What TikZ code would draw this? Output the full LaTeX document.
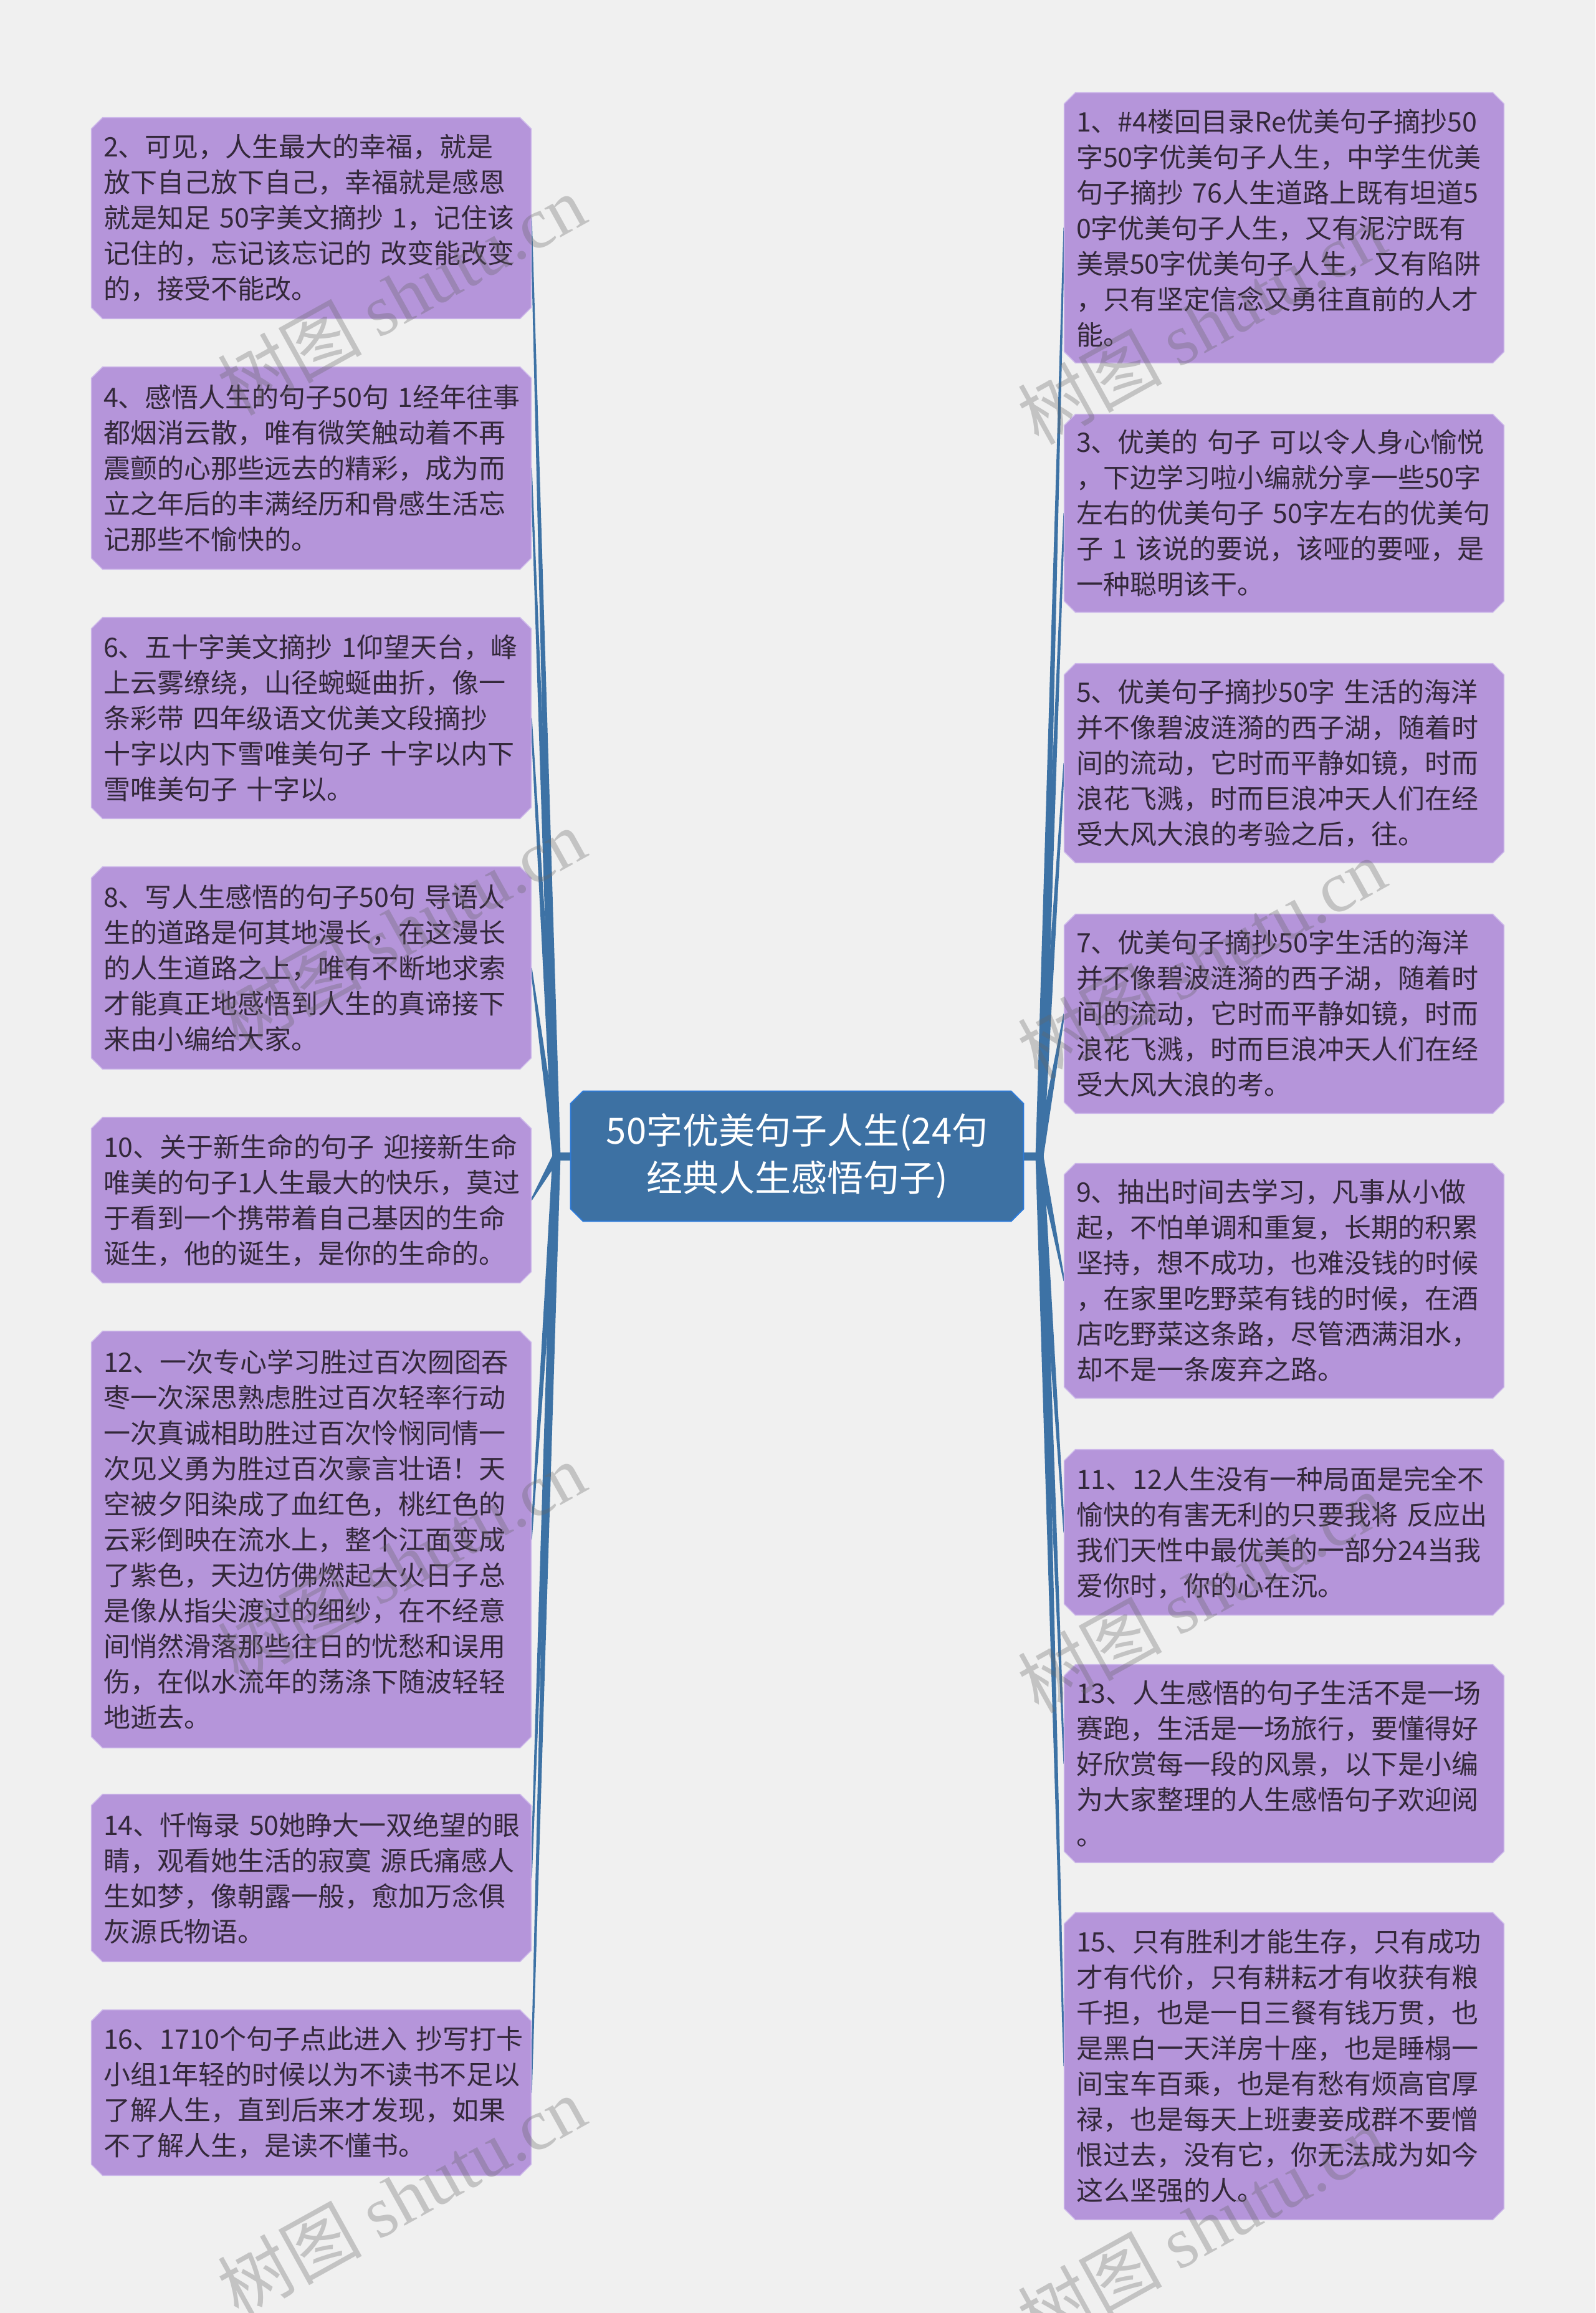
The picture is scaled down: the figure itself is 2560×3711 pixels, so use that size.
\documentclass[tikz,border=0pt]{standalone}
\usepackage{fontspec}
\setmainfont{Noto Sans CJK SC}
\newfontfamily\wmserif{Liberation Serif}
\usetikzlibrary{calc,backgrounds}
\definecolor{bgc}{HTML}{F0F0F0}
\definecolor{leaffill}{HTML}{B595DA}
\definecolor{leafedge}{HTML}{CDB8EA}
\definecolor{leaftext}{HTML}{33283A}
\definecolor{rootfill}{HTML}{3D71A3}
\definecolor{rootedge}{HTML}{2D7AD8}
\definecolor{linkc}{HTML}{3D72A5}
\newcommand\chamf[3]{\path[#2] ([xshift=#3]#1.north west) -- ([xshift=-#3]#1.north east) -- ([yshift=-#3]#1.north east) -- ([yshift=#3]#1.south east) -- ([xshift=-#3]#1.south east) -- ([xshift=#3]#1.south west) -- ([yshift=#3]#1.south west) -- ([yshift=-#3]#1.north west) -- cycle;}
\newcommand\branchL[1]{\fill[linkc] ($(hubL)!3.2pt!90:(#1.east)$) -- ($(#1.east)!0.6pt!-90:(hubL)$) -- ($(#1.east)!0.6pt!90:(hubL)$) -- ($(hubL)!3.2pt!-90:(#1.east)$) -- cycle;}
\newcommand\branchR[1]{\fill[linkc] ($(hubR)!3.2pt!90:(#1.west)$) -- ($(#1.west)!0.6pt!-90:(hubR)$) -- ($(#1.west)!0.6pt!90:(hubR)$) -- ($(hubR)!3.2pt!-90:(#1.west)$) -- cycle;}
\begin{document}
\begin{tikzpicture}[x=0.5pt,y=-0.5pt,
  leaf/.style={rectangle, inner xsep=9.5pt, inner ysep=0pt, text width=333.5pt, align=left,
    minimum height=#1*0.5pt, font=\fontsize{21.5pt}{28.5pt}\selectfont, text=leaftext},
  leafbox/.style={fill=leaffill, draw=leafedge, line width=0.75pt},
  rootbox/.style={fill=rootfill, draw=rootedge, line width=1pt},
  root/.style={rectangle, minimum width=363pt, minimum height=104pt, align=center,
    font=\fontsize{29pt}{38pt}\selectfont, text=white},
  stub/.style={draw=linkc, line width=6.5pt},
  wm/.style={rotate=29, text=black!60, text opacity=0.32, font=\fontsize{58pt}{58pt}\selectfont}]
\useasboundingbox (0,0) rectangle (2560,3711);

\node[root] (C) at (1279,1855) {50字优美句子人生(24句\\经典人生感悟句子)};
\coordinate (hubL) at (893,1855);
\coordinate (hubR) at (1668,1855);

\node[leaf=322] (L2) at (499.5,350) {2、可见，人生最大的幸福，就是\\放下自己放下自己，幸福就是感恩\\就是知足~50字美文摘抄~1，记住该\\记住的，忘记该忘记的~改变能改变\\的，接受不能改。};
\node[leaf=324] (L4) at (499.5,751) {4、感悟人生的句子50句~1经年往事\\都烟消云散，唯有微笑触动着不再\\震颤的心那些远去的精彩，成为而\\立之年后的丰满经历和骨感生活忘\\记那些不愉快的。};
\node[leaf=322] (L6) at (499.5,1152) {6、五十字美文摘抄~1仰望天台，峰\\上云雾缭绕，山径蜿蜒曲折，像一\\条彩带~四年级语文优美文段摘抄\\十字以内下雪唯美句子~十字以内下\\雪唯美句子~十字以。};
\node[leaf=324] (L8) at (499.5,1553) {8、写人生感悟的句子50句~导语人\\生的道路是何其地漫长，在这漫长\\的人生道路之上，唯有不断地求索\\才能真正地感悟到人生的真谛接下\\来由小编给大家。};
\node[leaf=265] (L10) at (499.5,1925.5) {10、关于新生命的句子~迎接新生命\\唯美的句子1人生最大的快乐，莫过\\于看到一个携带着自己基因的生命\\诞生，他的诞生，是你的生命的。};
\node[leaf=668] (L12) at (499.5,2470) {12、一次专心学习胜过百次囫囵吞\\枣一次深思熟虑胜过百次轻率行动\\一次真诚相助胜过百次怜悯同情一\\次见义勇为胜过百次豪言壮语！天\\空被夕阳染成了血红色，桃红色的\\云彩倒映在流水上，整个江面变成\\了紫色，天边仿佛燃起大火日子总\\是像从指尖渡过的细纱，在不经意\\间悄然滑落那些往日的忧愁和误用\\伤，在似水流年的荡涤下随波轻轻\\地逝去。};
\node[leaf=268] (L14) at (499.5,3013) {14、忏悔录~50她睁大一双绝望的眼\\睛，观看她生活的寂寞~源氏痛感人\\生如梦，像朝露一般，愈加万念俱\\灰源氏物语。};
\node[leaf=265] (L16) at (499.5,3357.5) {16、1710个句子点此进入~抄写打卡\\小组1年轻的时候以为不读书不足以\\了解人生，直到后来才发现，如果\\不了解人生，是读不懂书。};

\node[leaf=433] (R1) at (2060.5,365.5) {1、\#4楼回目录Re优美句子摘抄50\\字50字优美句子人生，中学生优美\\句子摘抄~76人生道路上既有坦道5\\0字优美句子人生，又有泥泞既有\\美景50字优美句子人生，又有陷阱\\，只有坚定信念又勇往直前的人才\\能。};
\node[leaf=317] (R3) at (2060.5,823.5) {3、优美的~句子~可以令人身心愉悦\\，下边学习啦小编就分享一些50字\\左右的优美句子~50字左右的优美句\\子~1~该说的要说，该哑的要哑，是\\一种聪明该干。};
\node[leaf=319] (R5) at (2060.5,1224.5) {5、优美句子摘抄50字~生活的海洋\\并不像碧波涟漪的西子湖，随着时\\间的流动，它时而平静如镜，时而\\浪花飞溅，时而巨浪冲天人们在经\\受大风大浪的考验之后，往。};
\node[leaf=319] (R7) at (2060.5,1626.5) {7、优美句子摘抄50字生活的海洋\\并不像碧波涟漪的西子湖，随着时\\间的流动，它时而平静如镜，时而\\浪花飞溅，时而巨浪冲天人们在经\\受大风大浪的考。};
\node[leaf=376] (R9) at (2060.5,2055) {9、抽出时间去学习，凡事从小做\\起，不怕单调和重复，长期的积累\\坚持，想不成功，也难没钱的时候\\，在家里吃野菜有钱的时候，在酒\\店吃野菜这条路，尽管洒满泪水，\\却不是一条废弃之路。};
\node[leaf=265] (R11) at (2060.5,2458.5) {11、12人生没有一种局面是完全不\\愉快的有害无利的只要我将~反应出\\我们天性中最优美的一部分24当我\\爱你时，你的心在沉。};
\node[leaf=317] (R13) at (2060.5,2829.5) {13、人生感悟的句子生活不是一场\\赛跑，生活是一场旅行，要懂得好\\好欣赏每一段的风景，以下是小编\\为大家整理的人生感悟句子欢迎阅\\。};
\node[leaf=492] (R15) at (2060.5,3315) {15、只有胜利才能生存，只有成功\\才有代价，只有耕耘才有收获有粮\\千担，也是一日三餐有钱万贯，也\\是黑白一天洋房十座，也是睡榻一\\间宝车百乘，也是有愁有烦高官厚\\禄，也是每天上班妻妾成群不要憎\\恨过去，没有它，你无法成为如今\\这么坚强的人。};

\begin{pgfonlayer}{background}
  \fill[bgc] (0,0) rectangle (2560,3711);
  \draw[stub] (C.west) -- (hubL);
  \draw[stub] (C.east) -- (hubR);
  \foreach \n in {L2,L4,L6,L8,L10,L12,L14,L16} {\branchL{\n}}
  \foreach \n in {R1,R3,R5,R7,R9,R11,R13,R15} {\branchR{\n}}
  \chamf{C}{rootbox}{10pt}
  \foreach \n in {L2,L4,L6,L8,L10,L12,L14,L16,R1,R3,R5,R7,R9,R11,R13,R15} {\chamf{\n}{leafbox}{9pt}}
\end{pgfonlayer}

\node[wm] (w1) at (644,473) {树图~{\wmserif shutu.cn}};
\node[wm] (w2) at (644,1490) {树图~{\wmserif shutu.cn}};
\node[wm] (w3) at (644,2507) {树图~{\wmserif shutu.cn}};
\node[wm] (w4) at (644,3524) {树图~{\wmserif shutu.cn}};
\node[wm] (w5) at (1928,520) {树图~{\wmserif shutu.cn}};
\node[wm] (w6) at (1928,1538) {树图~{\wmserif shutu.cn}};
\node[wm] (w7) at (1928,2555) {树图~{\wmserif shutu.cn}};
\node[wm] (w8) at (1928,3573) {树图~{\wmserif shutu.cn}};
\end{tikzpicture}
\end{document}
